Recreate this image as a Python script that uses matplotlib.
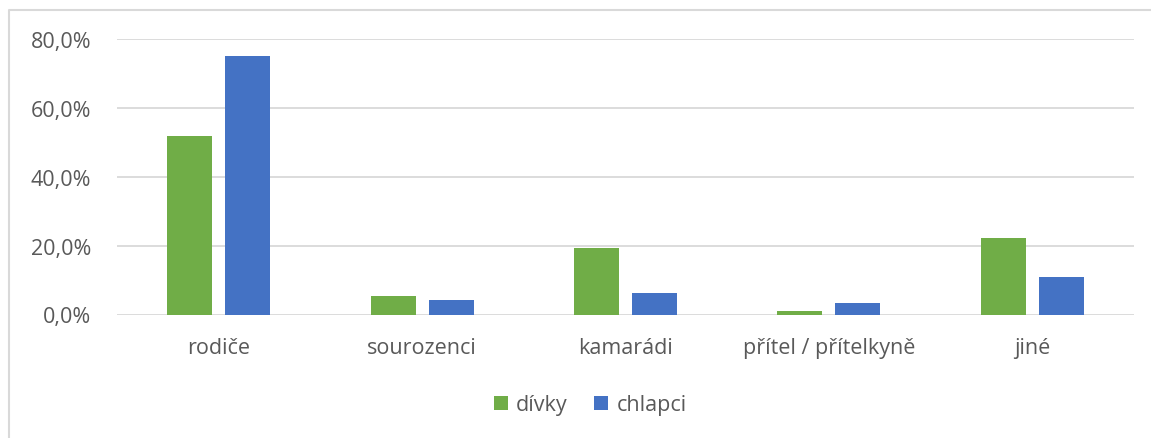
import matplotlib.pyplot as plt
import numpy as np
from matplotlib.lines import Line2D
from matplotlib.ticker import FuncFormatter

categories = ["rodiče", "sourozenci", "kamarádi", "přítel / přítelkyně", "jiné"]
divky = [51.8, 5.5, 19.3, 0.9, 22.2]
chlapci = [75.1, 4.1, 6.1, 3.4, 10.9]
yticks = [0, 20, 40, 60, 80]

plt.rcParams['font.family'] = ['Open Sans', 'DejaVu Sans']
txt = '#595959'
fs = 15.5

fig = plt.figure(figsize=(11.51, 4.39), dpi=100)
ax = fig.add_axes([117 / 1151, 1 - 315.5 / 439, (1134 - 117) / 1151, (315.5 - 40) / 439])

# chart area border (only left and top visible)
fig.lines.append(Line2D([8.5 / 1151, 8.5 / 1151, 1], [0, 1 - 10.5 / 439, 1 - 10.5 / 439],
                        transform=fig.transFigure, color='#D9D9D9', lw=1.5))

x = np.arange(len(categories))
w = 0.221
off = 0.1426
ax.bar(x - off, divky, w, color='#70AD47', label='dívky', zorder=3)
ax.bar(x + off, chlapci, w, color='#4472C4', label='chlapci', zorder=3)

ax.set_xlim(-0.5, len(categories) - 0.5)
ax.set_ylim(0, 80)
ax.set_yticks(yticks)
ax.yaxis.set_major_formatter(FuncFormatter(lambda v, p: f"{v:.1f}%".replace('.', ',')))
ax.set_xticks(x)
ax.set_xticklabels(categories)
ax.grid(axis='y', color='#D9D9D9', lw=1.3, zorder=0)
for s in ax.spines.values():
    s.set_visible(False)
ax.tick_params(axis='both', length=0, labelsize=fs, colors=txt)
ax.tick_params(axis='y', pad=18.5)
ax.tick_params(axis='x', pad=16)

fig.legend(loc='center', bbox_to_anchor=(590 / 1151, 1 - 406 / 439), ncol=2, frameon=False,
           fontsize=fs, labelcolor=txt, handlelength=0.65, handleheight=0.65,
           handletextpad=0.4, columnspacing=1.2)

fig.savefig('out.png', dpi=100)
